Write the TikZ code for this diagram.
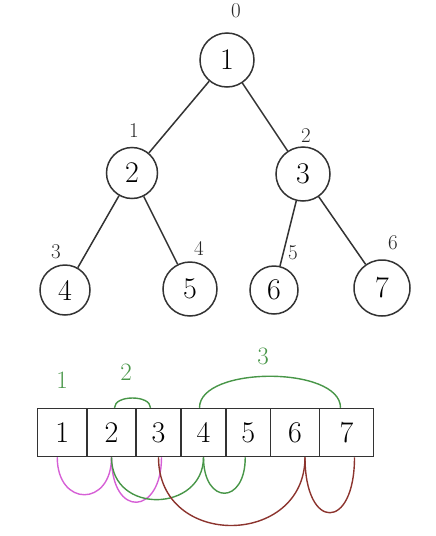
\documentclass[tikz,border=0pt]{standalone}
\definecolor{pinkline}{RGB}{214,96,214}
\definecolor{greenline}{RGB}{72,150,72}
\definecolor{brownline}{RGB}{140,52,46}
\begin{document}
\begin{tikzpicture}[x=1pt,y=-1pt,
    vertex/.style={draw=black!80,line width=1.5pt,circle,inner sep=0pt,minimum size=52pt,font=\fontsize{30}{32}\selectfont},
    idx/.style={font=\fontsize{21}{22}\selectfont,text=black!85},
    cell/.style={draw=black!80,line width=1.5pt,rectangle,inner sep=0pt,minimum height=48pt,font=\fontsize{30}{32}\selectfont},
    level/.style={font=\fontsize{25}{26}\selectfont,text=greenline},
    edge/.style={draw=black!80,line width=1.5pt},
    arc/.style={line width=1.4pt}]
    \useasboundingbox (0,0) rectangle (436,536);
    % tree
    \node[vertex,minimum size=54pt] (n1) at (227,60) {1};
    \node[vertex,minimum size=51pt] (n2) at (132,173) {2};
    \node[vertex,minimum size=54pt] (n3) at (303,174) {3};
    \node[vertex,minimum size=50pt] (n4) at (65,290) {4};
    \node[vertex,minimum size=54pt] (n5) at (190,289) {5};
    \node[vertex,minimum size=48pt] (n6) at (274,290) {6};
    \node[vertex,minimum size=56pt] (n7) at (382,288) {7};
    \draw[edge] (n1) -- (n2);
    \draw[edge] (n1) -- (n3);
    \draw[edge] (n2) -- (n4);
    \draw[edge] (n2) -- (n5);
    \draw[edge] (n3) -- (n6);
    \draw[edge] (n3) -- (n7);
    \node[idx] (i0) at (236,11) {0};
    \node[idx] (i1) at (134,131) {1};
    \node[idx] (i2) at (306,136) {2};
    \node[idx] (i3) at (56,252) {3};
    \node[idx] (i4) at (199,248) {4};
    \node[idx] (i5) at (293,253) {5};
    \node[idx] (i6) at (393,243) {6};
    % array
    \node[cell,minimum width=49.5pt] (c1) at (62.25,432.5) {1};
    \node[cell,minimum width=49pt] (c2) at (111.5,432.5) {2};
    \node[cell,minimum width=45pt] (c3) at (158.5,432.5) {3};
    \node[cell,minimum width=45pt] (c4) at (203.5,432.5) {4};
    \node[cell,minimum width=44.5pt] (c5) at (248.25,432.5) {5};
    \node[cell,minimum width=49pt] (c6) at (295,432.5) {6};
    \node[cell,minimum width=54pt] (c7) at (346.5,432.5) {7};
    \node[level] (l1) at (62,380) {1};
    \node[level] (l2) at (126,372) {2};
    \node[level] (l3) at (263,356) {3};
    % links above
    \draw[arc,greenline] ([xshift=3pt]c2.north) .. controls +(0,-13) and +(0,-13) .. ([xshift=-8pt]c3.north);
    \draw[arc,greenline] ([xshift=-4pt]c4.north) .. controls +(0,-42) and +(0,-42) .. ([xshift=-6pt]c7.north);
    % links below
    \draw[arc,pinkline] ([xshift=-5pt]c1.south) .. controls +(0,50) and +(0,50) .. (c2.south);
    \draw[arc,pinkline] (c2.south) .. controls +(0,62) and +(0,58) .. ([xshift=3pt]c3.south);
    \draw[arc,greenline] (c2.south) .. controls +(0,58) and +(0,55) .. (c4.south);
    \draw[arc,greenline] (c4.south) .. controls +(0,48) and +(0,48) .. ([xshift=-3pt]c5.south);
    \draw[arc,brownline] (c3.south) .. controls +(0,92) and +(0,90) .. ([xshift=10pt]c6.south);
    \draw[arc,brownline] ([xshift=10pt]c6.south) .. controls +(0,74) and +(0,74) .. ([xshift=8pt]c7.south);
\end{tikzpicture}
\end{document}
